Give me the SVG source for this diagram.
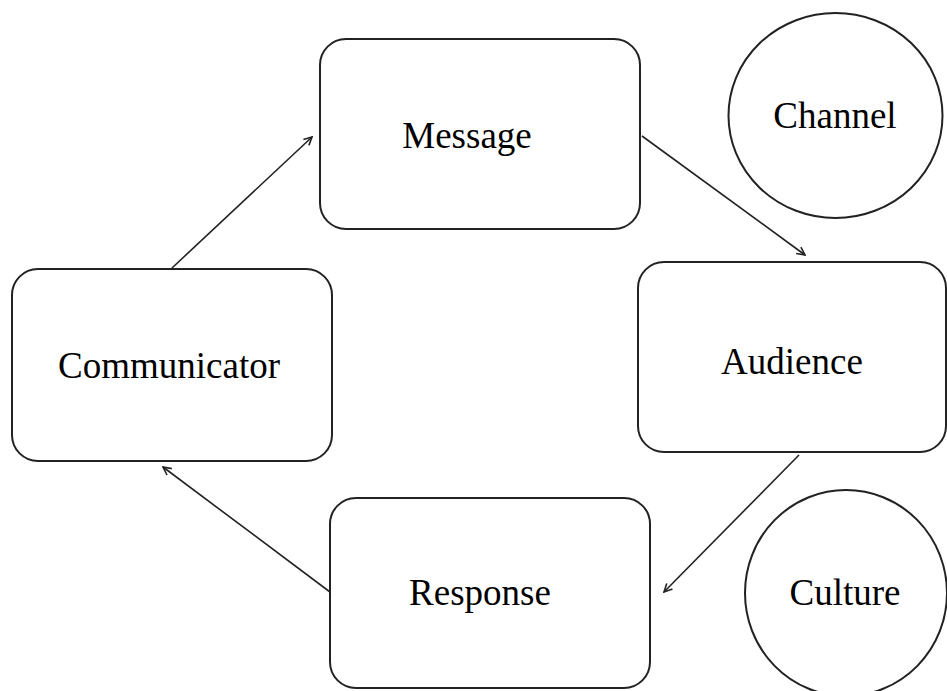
<svg xmlns="http://www.w3.org/2000/svg" width="947" height="691" viewBox="0 0 947 691">
  <style>
    .box { fill: #ffffff; stroke: #222222; stroke-width: 2; }
    .label { font-family: "Liberation Serif", "Times New Roman", serif; font-size: 37px; fill: #000000; text-anchor: middle; }
    .edge { stroke: #222222; stroke-width: 1.6; fill: none; marker-end: url(#arrow); }
  </style>
  <defs>
    <marker id="arrow" viewBox="0 0 10 10" refX="9" refY="5" markerWidth="10" markerHeight="10" markerUnits="userSpaceOnUse" orient="auto">
      <path d="M1,1 L9,5 L1,9" fill="none" stroke="#222222" stroke-width="1.6"/>
    </marker>
  </defs>
  <rect x="0" y="0" width="947" height="691" fill="#ffffff"/>

  <g id="connectors">
    <line class="edge" x1="172" y1="268" x2="312" y2="137"/>
    <line class="edge" x1="642" y1="136" x2="805" y2="255"/>
    <line class="edge" x1="799" y1="455" x2="664" y2="592"/>
    <line class="edge" x1="330" y1="592" x2="163" y2="467"/>
  </g>

  <g id="message">
    <rect class="box" x="320" y="39" width="320" height="190" rx="26" ry="26"/>
    <text class="label" x="467" y="148">Message</text>
  </g>

  <g id="communicator">
    <rect class="box" x="12" y="269" width="320" height="192" rx="26" ry="26"/>
    <text class="label" x="169" y="378">Communicator</text>
  </g>

  <g id="audience">
    <rect class="box" x="638" y="262" width="308" height="190" rx="26" ry="26"/>
    <text class="label" x="792" y="374">Audience</text>
  </g>

  <g id="response">
    <rect class="box" x="330" y="498" width="320" height="190" rx="26" ry="26"/>
    <text class="label" x="480" y="605">Response</text>
  </g>

  <g id="channel">
    <ellipse class="box" cx="835.5" cy="115.5" rx="107" ry="102.5"/>
    <text class="label" x="835" y="128">Channel</text>
  </g>

  <g id="culture">
    <ellipse class="box" cx="846" cy="593" rx="101" ry="103"/>
    <text class="label" x="845" y="605">Culture</text>
  </g>
</svg>
